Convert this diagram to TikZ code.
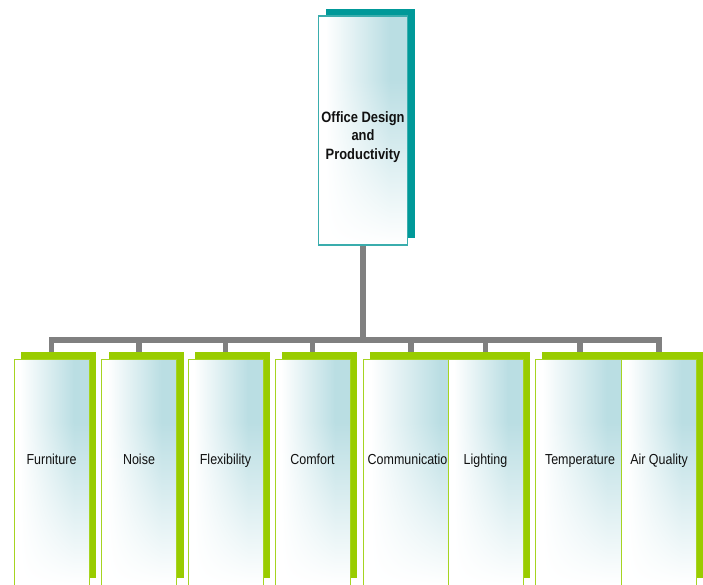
\documentclass[tikz,border=0pt]{standalone}
\usepackage{fontspec}
\setmainfont{Liberation Sans}
\newfontfamily\childfont[FakeStretch=0.86]{Liberation Sans}
\newfontfamily\topfont[FakeStretch=0.86]{Liberation Sans}
\usetikzlibrary{backgrounds}
\definecolor{connGray}{HTML}{808080}
\definecolor{tealShadow}{HTML}{009999}
\definecolor{tealLine}{HTML}{3AADAD}
\definecolor{greenShadow}{HTML}{99CC00}
\definecolor{greenLine}{HTML}{A6D421}
\definecolor{txt}{HTML}{111111}
\pgfdeclarefunctionalshading{officeshade}{\pgfpoint{0bp}{0bp}}{\pgfpoint{100bp}{100bp}}{}{
 25 sub 36 div dup 0 lt {pop 0} if dup 1 gt {pop 1} if
 exch
 29 sub 36 div dup 0 lt {pop 0} if dup 1 gt {pop 1} if
 mul
 dup 0.27 mul 1 exch sub
 exch dup 0.13 mul 1 exch sub
 exch 0.11 mul 1 exch sub
}
\begin{document}
\begin{tikzpicture}[x=1pt,y=-1pt,
  conn/.style={draw=connGray, line width=5.2pt},
  frontbox/.style={rectangle, inner sep=0pt, shade, shading=officeshade},
  childbox/.style={frontbox, draw=greenLine, line width=0.9pt, minimum height=226pt},
  childshadow/.style={rectangle, inner sep=0pt, fill=greenShadow, minimum height=226pt},
  childlabel/.style={anchor=base, inner sep=0pt, text=txt, font=\childfont\fontsize{14.5}{17}\selectfont},
  topbox/.style={frontbox, draw=tealLine, line width=1.1pt, minimum width=89pt, minimum height=229pt},
  topshadow/.style={rectangle, inner sep=0pt, fill=tealShadow, minimum width=89pt, minimum height=229pt},
  toplabel/.style={inner sep=0pt, align=center, text=txt, font=\topfont\bfseries\fontsize{15}{18.5}\selectfont}
]
\useasboundingbox (0,0) rectangle (703,585);
% top node
\node[topshadow] (ts) at (370,123.5) {};
\node[topbox] (top) at (363,130.5) {};
\node[toplabel] (tl) at (363,137) {Office Design\\and\\Productivity};
% children
\foreach \i/\cx/\w/\t in {1/51.5/75/Furniture, 2/139/75/Noise, 3/225.5/75/Flexibility, 4/312.5/75/Comfort, 5/411/96/Communication, 6/485.5/75/Lighting, 7/580/90/Temperature, 8/659/75/Air Quality}{
  \node[childshadow, minimum width=\w pt] (s\i) at (\cx+7,465) {};
  \node[childbox, minimum width=\w pt] (c\i) at (\cx,472) {};
  \node[childlabel] (l\i) at (\cx,464) {\t};
}
% connectors
\begin{scope}[on background layer]
  \coordinate (barc) at (0,340);
  \draw[conn] (top.south) -- (top.south |- barc);
  \draw[conn] (c1.north) -- (c1.north |- barc) -- (c8.north |- barc) -- (c8.north);
  \foreach \i in {2,...,7}{
    \draw[conn] (c\i.north) -- (c\i.north |- barc);
  }
\end{scope}
\end{tikzpicture}
\end{document}
